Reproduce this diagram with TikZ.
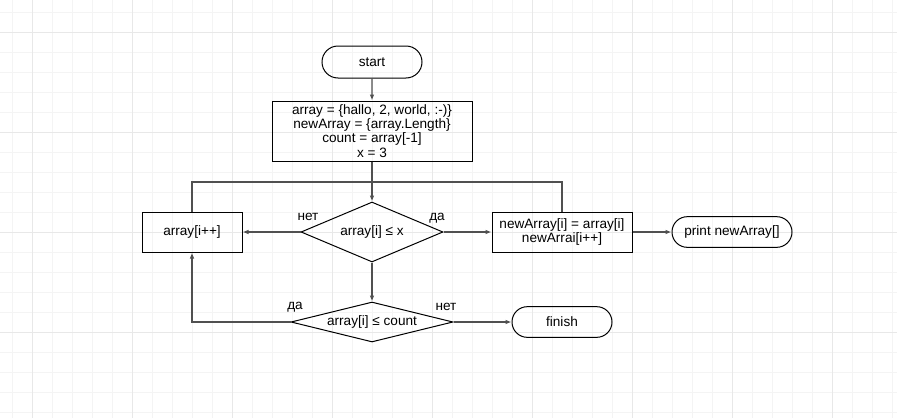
\documentclass[tikz,border=0pt]{standalone}
\usepackage{fontspec}
\setmainfont{Liberation Sans}
\usetikzlibrary{shapes.geometric,shapes.misc,arrows.meta}
\definecolor{gridminor}{RGB}{244,244,244}
\definecolor{gridmajor}{RGB}{232,232,232}
\definecolor{conn}{RGB}{80,80,80}
\tikzset{
  txt/.style={font=\fontsize{10.2}{10.7}\selectfont},
  term/.style={txt, draw=black, line width=0.75pt, rounded rectangle, minimum width=75pt, minimum height=23.5pt, inner sep=0pt, align=center},
  proc/.style={txt, draw=black, line width=0.75pt, rectangle, inner sep=0pt, align=center},
  dec/.style={txt, draw=black, line width=0.75pt, diamond, inner sep=0pt, align=center},
  lbl/.style={txt, inner sep=0pt},
  conn/.style={draw=conn, line width=1pt},
  arr/.style={conn, -{Latex[length=4.5pt,width=3.5pt]}},
}
\begin{document}
\begin{tikzpicture}[x=0.75pt,y=-0.75pt]
\useasboundingbox (0,0) rectangle (897,418);
\fill[white] (0,0) rectangle (897,418);
% grid
\foreach \x in {12,32,...,892} \draw[gridminor, line width=0.75pt] (\x,0) -- (\x,418);
\foreach \y in {12,32,...,412} \draw[gridminor, line width=0.75pt] (0,\y) -- (897,\y);
\foreach \x in {32,132,...,832} \draw[gridmajor, line width=0.75pt] (\x,0) -- (\x,418);
\foreach \y in {32,132,232,332} \draw[gridmajor, line width=0.75pt] (0,\y) -- (897,\y);

% nodes
\node[term, minimum height=24pt] (start) at (372,62) {start};
\node[proc, minimum width=150pt, minimum height=45pt] (init) at (372,131) {array = \{hallo, 2, world, :-)\}\\newArray = \{array.Length\}\\count = array[-1]\\x = 3};
\node[dec, aspect=2.367, minimum width=106.5pt, minimum height=45pt] (d1) at (372,232) {array[i] ≤ x};
\node[proc, minimum width=75pt, minimum height=30pt] (inc) at (192,232) {array[i++]};
\node[proc, minimum width=105pt, minimum height=30pt] (na) at (562,232) {newArray[i] = array[i]\\newArrai[i++]};
\node[term, minimum width=90pt, minimum height=23pt] (pr) at (732,232) {print newArray[]};
\node[dec, aspect=4.05, minimum width=121.5pt, minimum height=30pt] (d2) at (372,322) {array[i] ≤ count};
\node[term, minimum width=75pt, minimum height=23pt] (fin) at (562,322) {finish};

\coordinate (jl) at (192,182);
\coordinate (jr) at (562,182);

% connectors
\draw[arr] (start) -- (init);
\draw[arr] (init) -- (d1);
\draw[conn] (inc.north) -- (jl) -- (jr) -- (na.north);
\draw[arr] (d1.west) -- (inc.east);
\draw[arr] (d1.east) -- (na.west);
\draw[arr] (na.east) -- (pr.west);
\draw[arr] (d1.south) -- (d2.north);
\draw[arr] (d2.west) -| (inc.south);
\draw[arr] (d2.east) -- (fin.west);

% labels
\node[lbl] (l1) at (308,217) {нет};
\node[lbl] (l2) at (437,218) {да};
\node[lbl] (l3) at (295,307) {да};
\node[lbl] (l4) at (446,307) {нет};
\end{tikzpicture}
\end{document}
